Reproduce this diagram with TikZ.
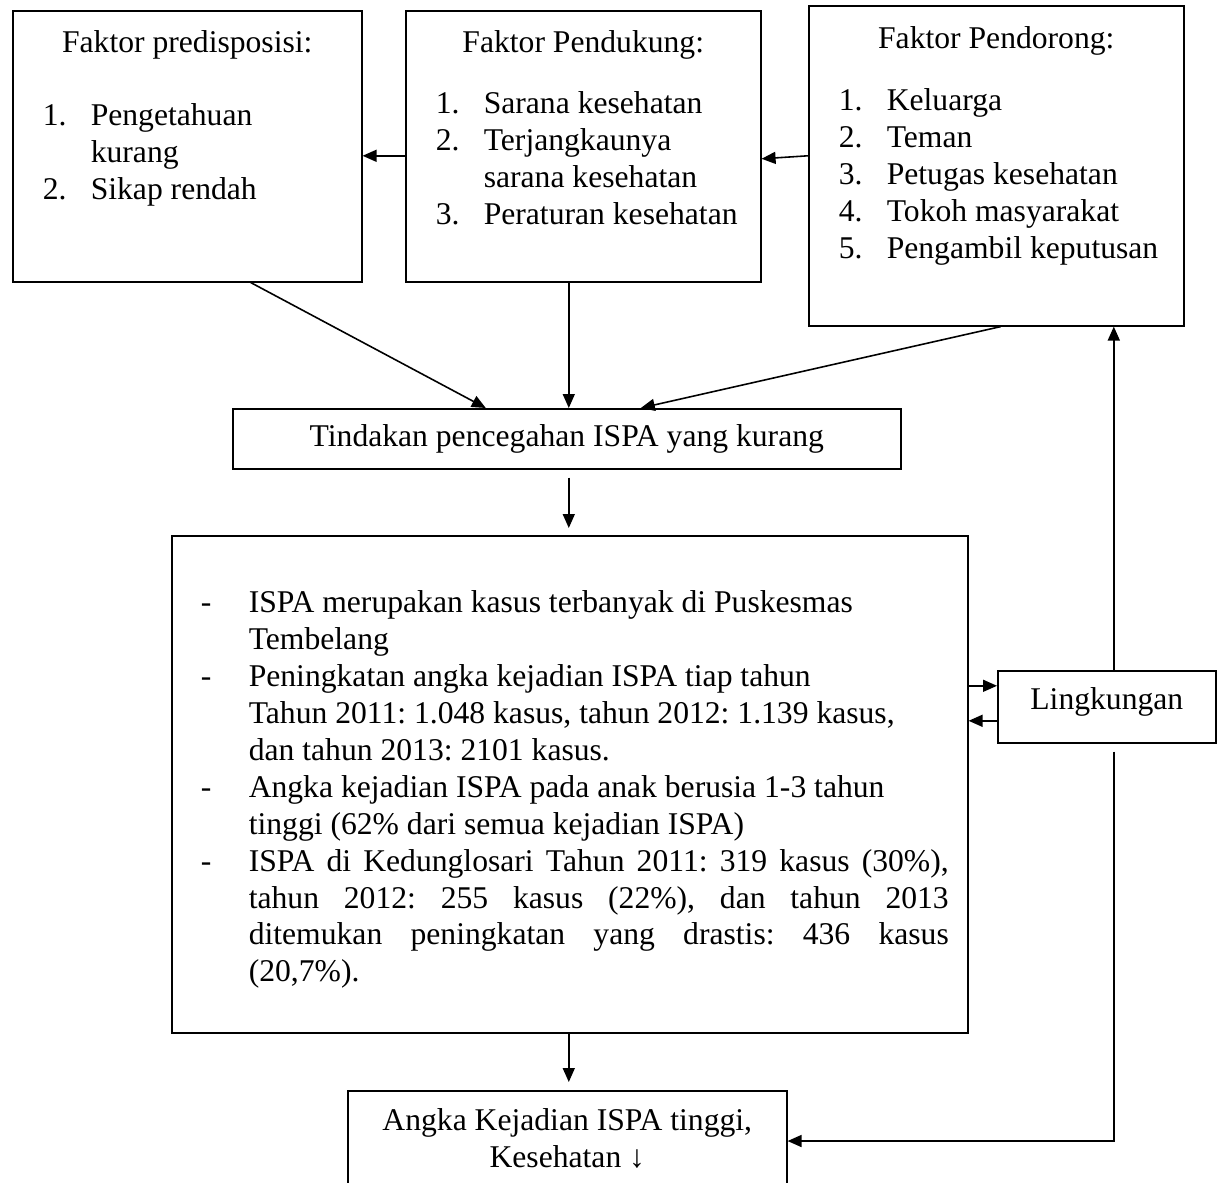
\documentclass[tikz,border=0pt]{standalone}
\usepackage{fontspec}
\setmainfont{Liberation Serif}
\usetikzlibrary{positioning,arrows.meta}

\newcommand\numitem[2]{\par\noindent\hangindent=1.56cm\hspace*{0.6cm}\makebox[0.96cm][l]{#1}#2}
\newcommand\dashitem[1]{\par\noindent\hangindent=1.54cm\hspace*{0.58cm}\makebox[0.96cm][l]{-}#1}
\newcommand\boxhead[2]{{\centering\rule{0pt}{#1}#2\par}}
\frenchspacing

\begin{document}
\begin{tikzpicture}[line width=0.9pt, font=\fontsize{18}{21}\selectfont,
    box/.style = {draw, rectangle, inner sep=0pt, anchor=north west},
    arr/.style = {-{Triangle[length=0.28cm,width=0.24cm]}}]
    \useasboundingbox (0,0) rectangle (24.46,-23.64);
    \clip (0,0) rectangle (24.46,-23.64);
    \node[box] (pred) at (0.24,-0.20) {\parbox[t][5.42cm][t]{6.98cm}{\raggedright
        \boxhead{0.84cm}{Faktor predisposisi:}\vspace{0.72cm}
        \numitem{1.}{Pengetahuan\newline kurang}
        \numitem{2.}{Sikap rendah}}};
    \node[box] (dukung) at (8.10,-0.20) {\parbox[t][5.42cm][t]{7.10cm}{\raggedright
        \boxhead{0.84cm}{Faktor Pendukung:}\vspace{0.48cm}
        \numitem{1.}{Sarana kesehatan}
        \numitem{2.}{Terjangkaunya\newline sarana kesehatan}
        \numitem{3.}{Peraturan kesehatan}}};
    \node[box] (dorong) at (16.16,-0.10) {\parbox[t][6.40cm][t]{7.50cm}{\raggedright
        \boxhead{0.86cm}{Faktor Pendorong:}\vspace{0.50cm}
        \numitem{1.}{Keluarga}
        \numitem{2.}{Teman}
        \numitem{3.}{Petugas kesehatan}
        \numitem{4.}{Tokoh masyarakat}
        \numitem{5.}{Pengambil keputusan}}};
    \node[box, minimum width=13.36cm, minimum height=1.20cm] (tindakan) at (4.64,-8.16) {Tindakan pencegahan ISPA yang kurang};
    \node[box] (info) at (3.42,-10.70) {\parbox[t][9.94cm][t]{15.92cm}{\raggedright
        \dashitem{\rule{0pt}{1.54cm}ISPA merupakan kasus terbanyak di Puskesmas\newline Tembelang}
        \dashitem{Peningkatan angka kejadian ISPA tiap tahun\newline Tahun 2011: 1.048 kasus, tahun 2012: 1.139 kasus,\newline dan tahun 2013: 2101 kasus.}
        \dashitem{Angka kejadian ISPA pada anak berusia 1-3 tahun\newline tinggi (62\% dari semua kejadian ISPA)}
        \dashitem{\makebox[14cm][s]{ISPA di Kedunglosari Tahun 2011: 319 kasus (30\%),}\newline
            \makebox[14cm][s]{tahun 2012: 255 kasus (22\%), dan tahun 2013}\newline
            \makebox[14cm][s]{ditemukan peningkatan yang drastis: 436 kasus}\newline
            (20,7\%).}}};
    \node[box, minimum width=4.36cm, minimum height=1.44cm, text depth=0.32cm] (lingk) at (19.94,-13.40) {Lingkungan};
    \node[box] (angka) at (6.94,-21.80) {\parbox[t][3cm][t]{8.78cm}{\centering
        \rule{0pt}{0.80cm}Angka Kejadian ISPA tinggi,\\ Kesehatan ↓\par}};
    % connectors
    \coordinate (mid) at ([xshift=0.04cm]tindakan.south);
    \coordinate (lin) at ([yshift=0.42cm]lingk.west);
    \coordinate (lout) at ([yshift=-0.28cm]lingk.west);
    \coordinate (lup) at ([xshift=0.14cm]lingk.north);
    \coordinate (ldown) at ([xshift=0.14cm,yshift=-0.16cm]lingk.south);
    \draw[arr] ([yshift=-0.19cm]dukung.west) -- ([yshift=-0.19cm]pred.east);
    \draw[arr] ([yshift=0.20cm]dorong.west) -- ([yshift=-0.25cm]dukung.east);
    \draw[arr] ([xshift=1.27cm]pred.south) -- ([xshift=-1.62cm]tindakan.north);
    \draw[arr] (mid |- dukung.south) -- (mid |- tindakan.north);
    \draw[arr] ([xshift=0.09cm]dorong.south) -- ([xshift=1.48cm]tindakan.north);
    \draw[arr, shorten <=0.16cm, shorten >=0.14cm] (mid) -- (mid |- info.north);
    \draw[arr, shorten >=0.16cm] (mid |- info.south) -- (mid |- angka.north);
    \draw[arr] (lin -| info.east) -- (lin);
    \draw[arr] (lout) -- (lout -| info.east);
    \draw[arr] (lup) -- (lup |- dorong.south);
    \draw[arr] (ldown) |- ([yshift=-1.02cm]angka.north east);
\end{tikzpicture}
\end{document}
